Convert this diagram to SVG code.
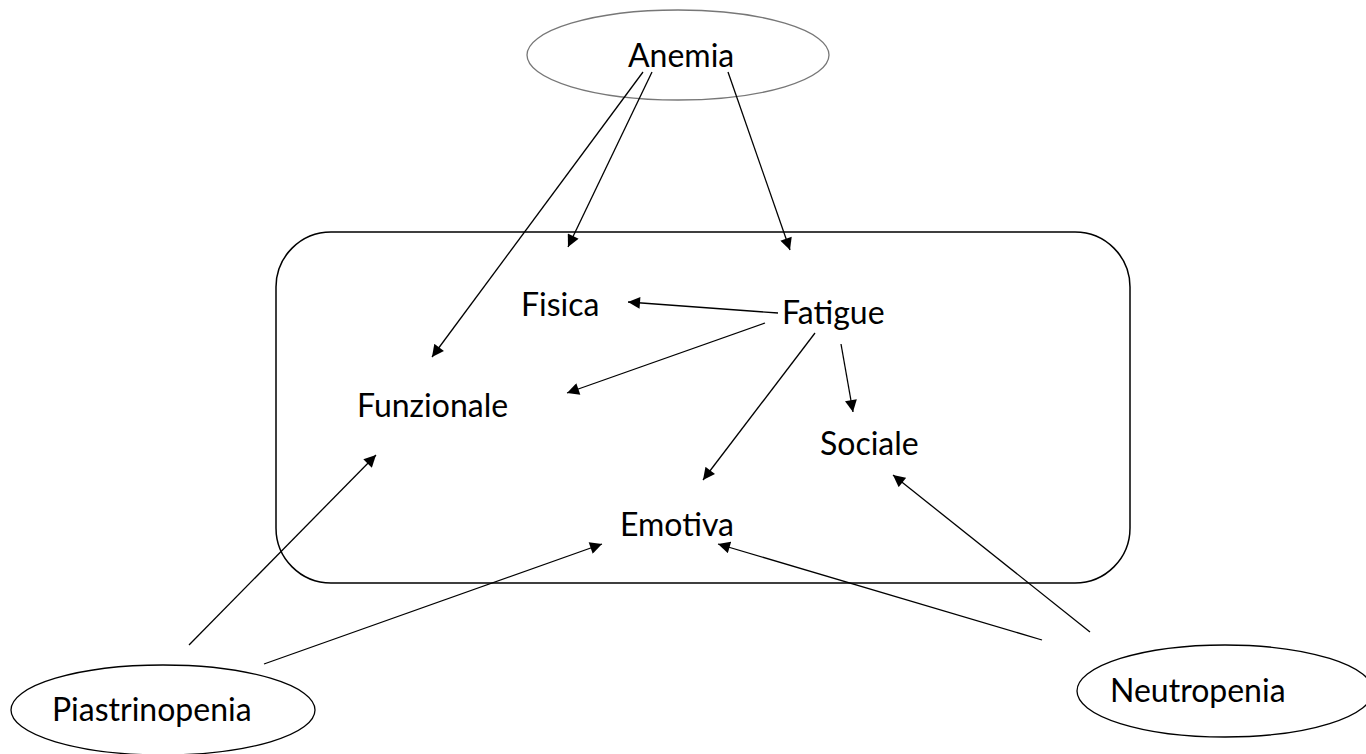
<svg xmlns="http://www.w3.org/2000/svg" width="1366" height="754" viewBox="0 0 1366 754">
<style>
text{font-family:"Lato","Open Sans","Liberation Sans",sans-serif;font-size:32px;fill:#000}
.e{fill:#fff;stroke:#000;stroke-width:1.3}
.c line{stroke:#000;stroke-width:1.3}
</style>
<defs>
<marker id="a" viewBox="0 0 10 10" refX="10" refY="5" markerWidth="13" markerHeight="12" markerUnits="userSpaceOnUse" orient="auto"><path d="M0,0 L10,5 L0,10 z" fill="#000"/></marker>
</defs>
<rect width="1366" height="754" fill="#fff"/>
<g id="frame"><rect x="276" y="232" width="854" height="351" rx="55" ry="55" fill="none" stroke="#000" stroke-width="1.5"/></g>
<g id="anemia"><ellipse class="e" cx="678" cy="55" rx="151" ry="45" style="stroke:#777"/><text x="628" y="67">Anemia</text></g>
<g id="piastrinopenia"><ellipse class="e" cx="163" cy="710" rx="152" ry="45"/><text x="52" y="721">Piastrinopenia</text></g>
<g id="neutropenia"><ellipse class="e" cx="1225" cy="691" rx="148" ry="46"/><text x="1110" y="702">Neutropenia</text></g>
<g id="fisica"><text x="521" y="316">Fisica</text></g>
<g id="fatigue"><text x="782" y="324">Fatigue</text></g>
<g id="funzionale"><text x="357" y="417">Funzionale</text></g>
<g id="sociale"><text x="820" y="455">Sociale</text></g>
<g id="emotiva"><text x="620" y="536">Emotiva</text></g>
<g class="c" id="connectors">
<line x1="643" y1="72" x2="432" y2="357" marker-end="url(#a)"/>
<line x1="652" y1="72" x2="568" y2="247" marker-end="url(#a)"/>
<line x1="728" y1="72" x2="790" y2="250" marker-end="url(#a)"/>
<line x1="778" y1="313" x2="628" y2="302" marker-end="url(#a)"/>
<line x1="765" y1="323" x2="567" y2="393" marker-end="url(#a)"/>
<line x1="815" y1="333" x2="703" y2="480" marker-end="url(#a)"/>
<line x1="841" y1="344" x2="853" y2="412" marker-end="url(#a)"/>
<line x1="189" y1="645" x2="376" y2="455" marker-end="url(#a)"/>
<line x1="264" y1="664" x2="602" y2="544" marker-end="url(#a)"/>
<line x1="1042" y1="640" x2="718" y2="544" marker-end="url(#a)"/>
<line x1="1090" y1="632" x2="893" y2="475" marker-end="url(#a)"/>
</g>
</svg>
